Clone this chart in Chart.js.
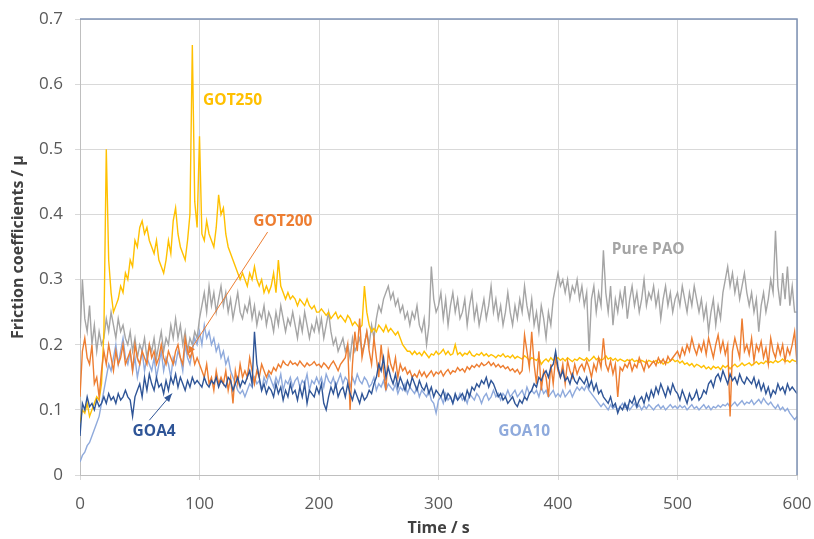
<!DOCTYPE html>
<html>
<head>
<meta charset="utf-8">
<script src="https://cdn.jsdelivr.net/npm/chart.js@4/dist/chart.umd.min.js"></script>
<style>
  html, body { margin: 0; padding: 0; background: #fff; }
  #wrap { width: 814px; height: 539px; position: relative; }
</style>
</head>
<body>
<div id="wrap"><canvas id="friction"></canvas></div>
<script>
// samples every 2 s, 0..600 s
const stepSec = 2;
const xTicks = [0, 100, 200, 300, 400, 500, 600];
const yTicks = [0, 0.1, 0.2, 0.3, 0.4, 0.5, 0.6, 0.7];

const purePAO = [
  0.21, 0.30, 0.24, 0.22, 0.26, 0.20, 0.23, 0.19, 0.22, 0.20,
  0.21, 0.24, 0.22, 0.25, 0.23, 0.21, 0.24, 0.22, 0.23, 0.21,
  0.20, 0.22, 0.19, 0.21, 0.18, 0.20, 0.19, 0.21, 0.18, 0.20,
  0.19, 0.21, 0.18, 0.20, 0.22, 0.19, 0.21, 0.20, 0.23, 0.21,
  0.24, 0.21, 0.23, 0.20, 0.22, 0.19, 0.21, 0.20, 0.22, 0.21,
  0.24, 0.26, 0.28, 0.25, 0.29, 0.26, 0.28, 0.25, 0.27, 0.29,
  0.26, 0.28, 0.25, 0.27, 0.24, 0.26, 0.28, 0.25, 0.24, 0.26,
  0.25, 0.27, 0.24, 0.26, 0.23, 0.25, 0.24, 0.26, 0.23, 0.25,
  0.24, 0.22, 0.25, 0.23, 0.26, 0.24, 0.22, 0.24, 0.23, 0.25,
  0.23, 0.21, 0.24, 0.22, 0.25, 0.23, 0.21, 0.23, 0.22, 0.24,
  0.22, 0.24, 0.21, 0.23, 0.25, 0.22, 0.20, 0.21, 0.19, 0.20,
  0.21, 0.19, 0.20, 0.18, 0.21, 0.19, 0.20, 0.21, 0.19, 0.20,
  0.22, 0.20, 0.23, 0.21, 0.24, 0.26, 0.25, 0.27, 0.28, 0.29,
  0.27, 0.28, 0.26, 0.27, 0.25, 0.26, 0.24, 0.25, 0.23, 0.25,
  0.24, 0.26, 0.23, 0.22, 0.24, 0.20, 0.23, 0.32, 0.27, 0.25,
  0.26, 0.28, 0.24, 0.27, 0.23, 0.26, 0.28, 0.25, 0.27, 0.24,
  0.25, 0.27, 0.23, 0.26, 0.28, 0.24, 0.26, 0.23, 0.25, 0.27,
  0.24, 0.26, 0.29, 0.25, 0.27, 0.24, 0.26, 0.23, 0.25, 0.28,
  0.25, 0.23, 0.26, 0.24, 0.27, 0.25, 0.29, 0.26, 0.24, 0.27,
  0.23, 0.25, 0.22, 0.26, 0.24, 0.21, 0.25, 0.23, 0.27, 0.29,
  0.31, 0.29, 0.30, 0.28, 0.30, 0.27, 0.29, 0.28, 0.30, 0.27,
  0.29, 0.26, 0.28, 0.19, 0.27, 0.29, 0.25, 0.28, 0.26, 0.345,
  0.28, 0.25, 0.29, 0.23, 0.27, 0.25, 0.28, 0.26, 0.29, 0.24,
  0.27, 0.29, 0.26, 0.28, 0.25, 0.27, 0.30, 0.26, 0.28, 0.27,
  0.29, 0.26, 0.28, 0.24, 0.27, 0.29, 0.26, 0.28, 0.25, 0.27,
  0.28, 0.26, 0.29, 0.27, 0.25, 0.28, 0.26, 0.29, 0.27, 0.25,
  0.27, 0.24, 0.26, 0.22, 0.25, 0.27, 0.23, 0.26, 0.24, 0.28,
  0.30, 0.32, 0.29, 0.31, 0.28, 0.30, 0.27, 0.29, 0.31, 0.28,
  0.26, 0.28, 0.25, 0.27, 0.22, 0.26, 0.28, 0.25, 0.27, 0.30,
  0.28, 0.375, 0.29, 0.26, 0.31, 0.27, 0.32, 0.26, 0.29, 0.25,
  0.25
];

const got250 = [
  0.08, 0.10, 0.095, 0.11, 0.09, 0.10, 0.11, 0.12, 0.115, 0.14,
  0.22, 0.50, 0.33, 0.28, 0.25, 0.26, 0.27, 0.29, 0.28, 0.31,
  0.30, 0.33, 0.32, 0.36, 0.35, 0.38, 0.39, 0.37, 0.38, 0.36,
  0.35, 0.34, 0.36, 0.33, 0.32, 0.31, 0.33, 0.36, 0.34, 0.39,
  0.41, 0.37, 0.35, 0.34, 0.33, 0.36, 0.40, 0.66, 0.42, 0.38,
  0.52, 0.37, 0.36, 0.39, 0.37, 0.36, 0.35, 0.38, 0.43, 0.40,
  0.41, 0.37, 0.35, 0.34, 0.33, 0.32, 0.31, 0.30, 0.31, 0.30,
  0.29, 0.31, 0.30, 0.32, 0.30, 0.29, 0.30, 0.28, 0.29, 0.28,
  0.29, 0.31, 0.28, 0.33, 0.29, 0.28, 0.27, 0.28, 0.27, 0.275,
  0.27, 0.26, 0.27, 0.265, 0.26, 0.27, 0.26, 0.255, 0.26, 0.25,
  0.25, 0.255, 0.25, 0.245, 0.25, 0.24, 0.245, 0.25, 0.24, 0.245,
  0.24, 0.235, 0.245, 0.24, 0.23, 0.235, 0.23, 0.225, 0.23, 0.29,
  0.25, 0.23, 0.22, 0.225, 0.22, 0.23, 0.225, 0.22, 0.23, 0.22,
  0.225, 0.22, 0.215, 0.22, 0.21, 0.20, 0.195, 0.19, 0.19, 0.185,
  0.19, 0.185, 0.188, 0.183, 0.19, 0.185, 0.18, 0.186, 0.184, 0.19,
  0.185, 0.188, 0.193, 0.185, 0.19, 0.184, 0.186, 0.20, 0.185, 0.188,
  0.183, 0.187, 0.185, 0.19, 0.184, 0.182, 0.186, 0.184, 0.188, 0.183,
  0.186, 0.182, 0.185, 0.183, 0.18, 0.184, 0.182, 0.186, 0.181, 0.183,
  0.18, 0.184, 0.179, 0.182, 0.18, 0.178, 0.183, 0.18, 0.176, 0.18,
  0.178, 0.176, 0.18, 0.17, 0.175, 0.178, 0.174, 0.18, 0.176, 0.178,
  0.18, 0.176, 0.179, 0.175, 0.18, 0.177, 0.174, 0.178, 0.176, 0.18,
  0.178, 0.176, 0.18, 0.175, 0.178, 0.182, 0.177, 0.18, 0.176, 0.178,
  0.183, 0.178, 0.18, 0.176, 0.179, 0.175, 0.178, 0.176, 0.174, 0.177,
  0.175, 0.178, 0.174, 0.176, 0.173, 0.176, 0.174, 0.172, 0.176, 0.174,
  0.173, 0.176, 0.172, 0.175, 0.17, 0.174, 0.172, 0.175, 0.178, 0.174,
  0.176, 0.172, 0.175, 0.17, 0.172, 0.168, 0.171, 0.166, 0.17, 0.168,
  0.165, 0.168, 0.163, 0.166, 0.162, 0.167, 0.164, 0.166, 0.162, 0.168,
  0.165, 0.168, 0.163, 0.167, 0.17, 0.166, 0.168, 0.172, 0.168, 0.17,
  0.172, 0.168, 0.171, 0.174, 0.17, 0.173, 0.171, 0.175, 0.172, 0.174,
  0.172, 0.176, 0.173, 0.175, 0.178, 0.174, 0.176, 0.173, 0.177, 0.175,
  0.174
];

const got200 = [
  0.12, 0.19, 0.21, 0.18, 0.17, 0.20, 0.14, 0.15, 0.12, 0.16,
  0.19, 0.17, 0.20, 0.18, 0.16, 0.19, 0.17, 0.18, 0.20, 0.17,
  0.18, 0.19, 0.16, 0.20, 0.18, 0.17, 0.19, 0.18, 0.17, 0.20,
  0.18, 0.19, 0.17, 0.18, 0.20, 0.18, 0.17, 0.19, 0.18, 0.17,
  0.19, 0.20, 0.18, 0.17, 0.21, 0.19, 0.18, 0.19, 0.17, 0.18,
  0.17, 0.16, 0.15, 0.17, 0.14, 0.15, 0.13, 0.16, 0.14, 0.15,
  0.14, 0.16, 0.13, 0.15, 0.11, 0.16, 0.14, 0.17, 0.15, 0.16,
  0.15, 0.18, 0.16, 0.14, 0.16, 0.15, 0.17, 0.16, 0.15, 0.16,
  0.155, 0.165, 0.16, 0.17, 0.165, 0.175, 0.17, 0.168, 0.175, 0.17,
  0.172, 0.168, 0.175, 0.17, 0.166, 0.172, 0.168, 0.17, 0.174, 0.168,
  0.17, 0.165, 0.172, 0.168, 0.163, 0.17, 0.175, 0.168, 0.16, 0.17,
  0.175, 0.18, 0.20, 0.10, 0.17, 0.22, 0.19, 0.24, 0.18, 0.20,
  0.22, 0.19, 0.17, 0.21, 0.18, 0.15, 0.20, 0.16, 0.13, 0.19,
  0.17, 0.16, 0.18, 0.15, 0.17, 0.16, 0.165, 0.155, 0.16, 0.15,
  0.155, 0.15, 0.16, 0.152, 0.158, 0.15, 0.155, 0.16, 0.152, 0.158,
  0.155, 0.16, 0.152, 0.158, 0.162, 0.155, 0.16, 0.158, 0.165, 0.16,
  0.163, 0.158, 0.166, 0.162, 0.168, 0.165, 0.17, 0.166, 0.172, 0.168,
  0.17, 0.174, 0.168, 0.172, 0.166, 0.17, 0.165, 0.168, 0.163, 0.166,
  0.16, 0.163, 0.158, 0.162, 0.155, 0.16, 0.215, 0.19, 0.165, 0.22,
  0.17, 0.14, 0.19, 0.13, 0.16, 0.15, 0.12, 0.17, 0.14, 0.18,
  0.16, 0.15, 0.17, 0.14, 0.175, 0.16, 0.15, 0.17, 0.155, 0.165,
  0.17, 0.16, 0.175, 0.165, 0.15, 0.17, 0.16, 0.18, 0.165, 0.21,
  0.17, 0.16, 0.175, 0.155, 0.17, 0.12, 0.165, 0.16, 0.17, 0.165,
  0.175, 0.16, 0.17, 0.165, 0.18, 0.17, 0.16, 0.175, 0.165, 0.17,
  0.175, 0.168, 0.18, 0.172, 0.178, 0.17, 0.182, 0.175, 0.18, 0.185,
  0.19, 0.18, 0.195, 0.185, 0.20, 0.19, 0.21, 0.195, 0.185, 0.20,
  0.19, 0.205, 0.185, 0.21, 0.195, 0.18, 0.20, 0.215, 0.19, 0.205,
  0.185, 0.20, 0.09, 0.19, 0.21, 0.195, 0.18, 0.24, 0.19, 0.20,
  0.185, 0.21, 0.175, 0.20, 0.19, 0.205, 0.18, 0.195, 0.17, 0.21,
  0.19, 0.18, 0.20, 0.185, 0.20, 0.175, 0.195, 0.185, 0.20, 0.22,
  0.17
];

const goa4 = [
  0.06, 0.11, 0.10, 0.12, 0.105, 0.11, 0.10, 0.115, 0.105, 0.11,
  0.12, 0.11, 0.125, 0.115, 0.12, 0.11, 0.125, 0.115, 0.12, 0.13,
  0.12, 0.115, 0.09, 0.12, 0.13, 0.14, 0.12, 0.15, 0.13, 0.155,
  0.14, 0.13, 0.15, 0.135, 0.14, 0.125, 0.145, 0.13, 0.15, 0.14,
  0.155, 0.135, 0.15, 0.14, 0.13, 0.145, 0.135, 0.15, 0.14, 0.145,
  0.14, 0.135, 0.15, 0.14, 0.135, 0.145, 0.14, 0.15, 0.135, 0.145,
  0.14, 0.135, 0.15, 0.145, 0.13, 0.14, 0.15, 0.135, 0.145, 0.14,
  0.15, 0.16, 0.14, 0.22, 0.17, 0.15, 0.13, 0.14, 0.125, 0.135,
  0.13, 0.12, 0.14, 0.125, 0.135, 0.115, 0.13, 0.12, 0.14, 0.125,
  0.13, 0.115, 0.135, 0.12, 0.14, 0.11, 0.13, 0.125, 0.12, 0.135,
  0.125, 0.14, 0.11, 0.10, 0.12, 0.135, 0.125, 0.14, 0.12, 0.13,
  0.135, 0.12, 0.14, 0.125, 0.115, 0.13, 0.12, 0.11, 0.125, 0.115,
  0.12, 0.13, 0.125, 0.14, 0.15, 0.17, 0.16, 0.18, 0.15, 0.165,
  0.15, 0.14, 0.155, 0.135, 0.15, 0.14, 0.13, 0.145, 0.135, 0.15,
  0.14, 0.13, 0.145, 0.135, 0.13, 0.14, 0.125, 0.135, 0.12, 0.13,
  0.125, 0.12, 0.13, 0.115, 0.125, 0.12, 0.11, 0.125, 0.115, 0.12,
  0.125, 0.115, 0.13, 0.12, 0.135, 0.13, 0.14, 0.135, 0.145, 0.14,
  0.15, 0.135, 0.145, 0.14, 0.13, 0.12, 0.125, 0.115, 0.12, 0.11,
  0.115, 0.12, 0.11, 0.105, 0.115, 0.11, 0.12, 0.115, 0.125, 0.13,
  0.14, 0.135, 0.15, 0.145, 0.155, 0.16, 0.15, 0.165, 0.17, 0.19,
  0.165, 0.15, 0.16, 0.145, 0.15, 0.14, 0.155, 0.145, 0.14, 0.15,
  0.145, 0.14, 0.15, 0.135, 0.145, 0.13, 0.14, 0.125, 0.13, 0.12,
  0.115, 0.11, 0.12, 0.105, 0.11, 0.095, 0.105, 0.10, 0.11, 0.10,
  0.115, 0.11, 0.12, 0.105, 0.115, 0.12, 0.11, 0.125, 0.115, 0.13,
  0.12, 0.135, 0.125, 0.14, 0.13, 0.12, 0.135, 0.125, 0.14, 0.13,
  0.125, 0.115, 0.13, 0.12, 0.11, 0.125, 0.115, 0.12, 0.13, 0.115,
  0.12, 0.13, 0.125, 0.14, 0.145, 0.135, 0.15, 0.155, 0.145, 0.16,
  0.15, 0.14, 0.155, 0.145, 0.15, 0.14, 0.155, 0.145, 0.14, 0.15,
  0.145, 0.14, 0.15, 0.135, 0.145, 0.13, 0.14, 0.125, 0.135, 0.12,
  0.13, 0.125, 0.14, 0.13, 0.135, 0.125, 0.14, 0.13, 0.135, 0.13,
  0.125
];

const goa10 = [
  0.02, 0.03, 0.035, 0.045, 0.05, 0.06, 0.07, 0.08, 0.09, 0.11,
  0.13, 0.15, 0.17, 0.16, 0.18, 0.20, 0.17, 0.19, 0.21, 0.18,
  0.17, 0.19, 0.16, 0.18, 0.15, 0.17, 0.19, 0.16, 0.18, 0.17,
  0.16, 0.18, 0.15, 0.17, 0.19, 0.16, 0.18, 0.17, 0.15, 0.18,
  0.17, 0.19, 0.18, 0.16, 0.20, 0.18, 0.17, 0.19, 0.21, 0.20,
  0.22, 0.20, 0.23, 0.21, 0.22, 0.20, 0.21, 0.19, 0.20, 0.18,
  0.19, 0.17, 0.18, 0.16, 0.15, 0.14, 0.13, 0.125, 0.13, 0.12,
  0.13, 0.14, 0.135, 0.15, 0.14, 0.145, 0.13, 0.15, 0.14, 0.155,
  0.145, 0.135, 0.15, 0.14, 0.155, 0.13, 0.145, 0.14, 0.15, 0.135,
  0.145, 0.15, 0.135, 0.145, 0.14, 0.155, 0.13, 0.145, 0.14, 0.15,
  0.14, 0.15, 0.135, 0.155, 0.145, 0.14, 0.15, 0.135, 0.145, 0.155,
  0.14, 0.15, 0.145, 0.135, 0.15, 0.14, 0.155, 0.145, 0.14, 0.15,
  0.145, 0.135, 0.14, 0.15, 0.13, 0.14, 0.135, 0.145, 0.13, 0.14,
  0.135, 0.13, 0.14, 0.125, 0.135, 0.13, 0.14, 0.125, 0.135, 0.13,
  0.125, 0.135, 0.12, 0.13, 0.125, 0.12, 0.13, 0.115, 0.11, 0.095,
  0.115, 0.12, 0.11, 0.125, 0.115, 0.12, 0.11, 0.12, 0.115, 0.125,
  0.115, 0.12, 0.11, 0.125, 0.12, 0.115, 0.125, 0.12, 0.11, 0.12,
  0.125, 0.115, 0.12, 0.13, 0.12, 0.125, 0.115, 0.125, 0.12, 0.13,
  0.12, 0.125, 0.13, 0.12, 0.125, 0.13, 0.12, 0.135, 0.125, 0.13,
  0.125, 0.13, 0.12, 0.135, 0.125, 0.13, 0.12, 0.125, 0.13, 0.12,
  0.125, 0.12, 0.13, 0.12, 0.125, 0.13, 0.12, 0.128, 0.135, 0.13,
  0.135, 0.13, 0.138, 0.13, 0.125, 0.12, 0.115, 0.11, 0.105, 0.11,
  0.105, 0.10, 0.108, 0.102, 0.106, 0.10, 0.105, 0.11, 0.103, 0.107,
  0.10, 0.105, 0.11, 0.103, 0.107, 0.10, 0.106, 0.102, 0.108, 0.104,
  0.10, 0.105, 0.108, 0.102, 0.106, 0.10, 0.104, 0.108, 0.103, 0.106,
  0.102, 0.107, 0.103, 0.106, 0.10, 0.104, 0.108, 0.102, 0.105, 0.10,
  0.104, 0.108, 0.102, 0.106, 0.10, 0.105, 0.103, 0.107, 0.104, 0.108,
  0.106, 0.11, 0.104, 0.108, 0.112, 0.106, 0.11, 0.114, 0.108, 0.112,
  0.11, 0.115, 0.108, 0.112, 0.116, 0.11, 0.118, 0.112, 0.108, 0.112,
  0.106, 0.102, 0.108, 0.10, 0.104, 0.098, 0.102, 0.095, 0.09, 0.085,
  0.09
];

// in-plot series names, placed in data units (time, mu)
const labelNames = ["GOT250", "GOT200", "Pure PAO", "GOA4", "GOA10"];
const labelX = [103, 145, 445, 44, 350];
const labelY = [0.575, 0.389, 0.346, 0.066, 0.066];
const labelColors = ["#ffc000", "#ed7d31", "#a5a5a5", "#2f5597", "#8faadc"];
// leader arrows: [fromT, fromMu, toT, toMu, colour]
const leaders = [
  [157, 0.373, 90, 0.185, "#ed7d31"],
  [58, 0.084, 77, 0.125, "#2f5597"]
];

const toPoints = arr => arr.map((v, i) => ({ x: i * stepSec, y: v }));

const annotate = {
  id: "annotate",
  afterDatasetsDraw(chart) {
    const { ctx, scales: { x, y }, chartArea: a } = chart;
    ctx.save();
    // top / right frame
    ctx.strokeStyle = "#7f93b5";
    ctx.lineWidth = 1.5;
    ctx.beginPath();
    ctx.moveTo(a.left, a.top);
    ctx.lineTo(a.right, a.top);
    ctx.lineTo(a.right, a.bottom);
    ctx.stroke();

    leaders.forEach(([t0, m0, t1, m1, col]) => {
      const x0 = x.getPixelForValue(t0), y0 = y.getPixelForValue(m0);
      const x1 = x.getPixelForValue(t1), y1 = y.getPixelForValue(m1);
      ctx.strokeStyle = col;
      ctx.fillStyle = col;
      ctx.lineWidth = 1;
      ctx.beginPath();
      ctx.moveTo(x0, y0);
      ctx.lineTo(x1, y1);
      ctx.stroke();
      const ang = Math.atan2(y1 - y0, x1 - x0);
      ctx.beginPath();
      ctx.moveTo(x1, y1);
      ctx.lineTo(x1 - 9 * Math.cos(ang - 0.38), y1 - 9 * Math.sin(ang - 0.38));
      ctx.lineTo(x1 - 9 * Math.cos(ang + 0.38), y1 - 9 * Math.sin(ang + 0.38));
      ctx.closePath();
      ctx.fill();
    });

    ctx.font = "bold 15.5px 'Open Sans'";
    ctx.textBaseline = "middle";
    ctx.textAlign = "left";
    labelNames.forEach((name, i) => {
      ctx.fillStyle = labelColors[i];
      ctx.fillText(name, x.getPixelForValue(labelX[i]), y.getPixelForValue(labelY[i]));
    });
    ctx.restore();
  }
};

const series = [
  { label: "Pure PAO", data: purePAO, color: "#a5a5a5", order: 5 },
  { label: "GOT250", data: got250, color: "#ffc000", order: 4 },
  { label: "GOA10", data: goa10, color: "#8faadc", order: 3 },
  { label: "GOT200", data: got200, color: "#ed7d31", order: 2 },
  { label: "GOA4", data: goa4, color: "#2f5597", order: 1 }
];

const tickFont = { family: "'Open Sans'", size: 17 };
const titleFont = { family: "'Open Sans'", size: 16, weight: "bold" };

new Chart(document.getElementById("friction").getContext("2d"), {
  type: "line",
  data: {
    datasets: series.map(s => ({
      label: s.label,
      data: toPoints(s.data),
      borderColor: s.color,
      borderWidth: 1.4,
      pointRadius: 0,
      tension: 0,
      order: s.order
    }))
  },
  options: {
    responsive: true,
    maintainAspectRatio: false,
    animation: false,
    layout: { padding: { top: 19, right: 17, left: 0, bottom: 0 } },
    plugins: { legend: { display: false }, tooltip: { enabled: false } },
    scales: {
      x: {
        type: "linear",
        min: 0,
        max: 600,
        afterBuildTicks: axis => { axis.ticks = xTicks.map(v => ({ value: v })); },
        afterFit: axis => {
          axis.height = 64;
          axis.paddingLeft = 0;
          axis.paddingRight = 0;
        },
        grid: { color: "#d9d9d9", tickLength: 5, lineWidth: 1 },
        border: { color: "#bfbfbf" },
        ticks: { color: "#595959", font: tickFont, padding: 14, maxRotation: 0 },
        title: { display: true, text: "Time / s", color: "#404040", font: titleFont, padding: { top: 0, bottom: 1 } }
      },
      y: {
        min: 0,
        max: 0.7,
        afterBuildTicks: axis => { axis.ticks = yTicks.map(v => ({ value: v })); },
        afterFit: axis => {
          axis.width = 80;
          axis.paddingTop = 0;
          axis.paddingBottom = 0;
        },
        grid: { color: "#d9d9d9", tickLength: 5, lineWidth: 1 },
        border: { color: "#bfbfbf" },
        ticks: { color: "#595959", font: tickFont, padding: 12, callback: v => String(Math.round(v * 10) / 10) },
        title: { display: true, text: "Friction coefficients / μ", color: "#404040", font: titleFont, padding: { top: 9, bottom: 2 } }
      }
    }
  },
  plugins: [annotate]
});
</script>
</body>
</html>
